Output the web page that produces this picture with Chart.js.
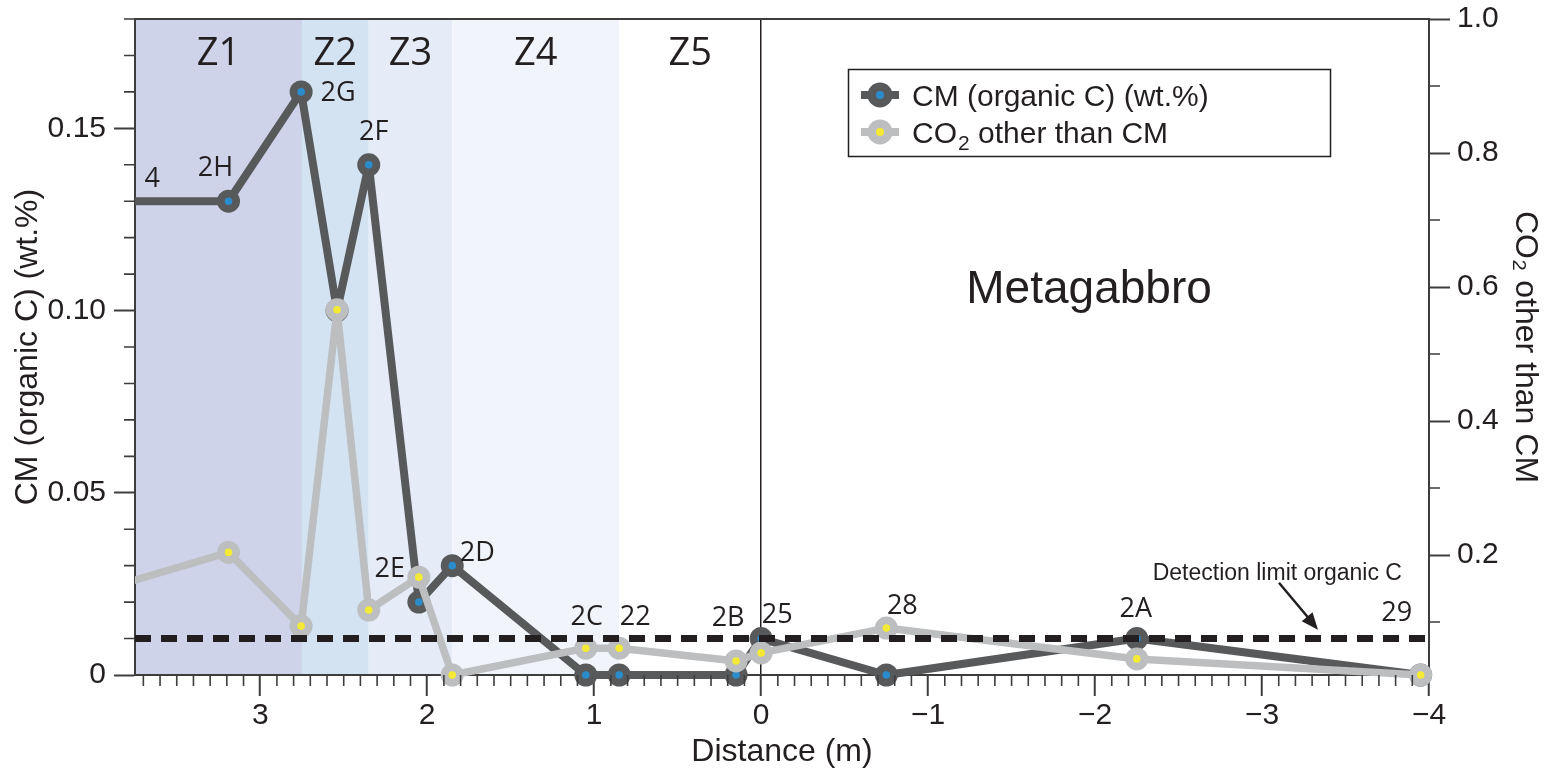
<!DOCTYPE html>
<html>
<head>
<meta charset="utf-8">
<title>CM and CO2 across the contact</title>
<script src="https://cdn.jsdelivr.net/npm/chart.js@4.4.0/dist/chart.umd.min.js"></script>
<style>
  html, body { margin: 0; padding: 0; background: #fff; }
  #wrap { width: 1553px; height: 771px; }
</style>
</head>
<body>
<div id="wrap"><canvas id="profile" width="1553" height="771"></canvas></div>
<script>
// distance from the contact (m), samples from left to right
const distance = [4.0, 3.19, 2.755, 2.54, 2.35, 2.05, 1.85, 1.05, 0.85, 0.15, 0.0, -0.75, -2.25, -3.95];
const sampleNames = ['4', '2H', '2G', '', '2F', '2E', '2D', '2C', '22', '2B', '25', '28', '2A', '29'];
const cmOrganic = [0.13, 0.13, 0.16, 0.10, 0.14, 0.02, 0.03, 0, 0, 0, 0.01, 0, 0.01, 0];
const co2Other = [0.144, 0.204, 0.094, 0.566, 0.118, 0.167, 0.021, 0.061, 0.061, 0.042, 0.054, 0.091, 0.045, 0.021];
const detectionLimit = 0.01;

const zoneNames = ['Z1', 'Z2', 'Z3', 'Z4', 'Z5'];
const zoneBounds = [3.75, 2.75, 2.35, 1.85, 0.85, 0];

const xTicks = [3, 2, 1, 0, -1, -2, -3, -4];
const cmTicks = [0, 0.05, 0.10, 0.15];
const co2Ticks = [0.2, 0.4, 0.6, 0.8, 1.0];

// styling
const sans = "'Liberation Sans', Arial, sans-serif";
const myriad = "'Open Sans', 'Noto Sans', sans-serif";
const ink = '#231f20';
const axisGray = '#3d3d3d';
const cmColor = '#58595b';
const cmDot = '#2a8ccb';
const co2Color = '#bcbec0';
const co2Dot = '#f4ea35';
const zoneColors = ['#cfd3ea', '#d3e3f2', '#e5ecf7', '#f1f5fb', '#ffffff'];
// label position (dx, baseline dy) relative to the CM point of the same sample
const labelOffsets = [[59, -14], [-13, -25], [37, 9], [0, 0], [5, -25], [-29, -25], [25, -5], [1, -50],
                      [16, -50], [-8, -49], [16, -16], [16, -61], [-1, -22], [-24, -54]];

const backdrop = {
    id: 'backdrop',
    beforeDraw(chart) {
        const { ctx, chartArea: a, scales: { x } } = chart;
        ctx.save();
        ctx.fillStyle = '#fff';
        ctx.fillRect(0, 0, chart.width, chart.height);
        zoneNames.forEach((z, i) => {
            const x0 = Math.max(a.left, x.getPixelForValue(zoneBounds[i]));
            const x1 = x.getPixelForValue(zoneBounds[i + 1]);
            ctx.fillStyle = zoneColors[i];
            ctx.fillRect(x0, a.top, x1 - x0, a.bottom - a.top);
        });
        ctx.restore();
    }
};

const innerDots = {
    id: 'innerDots',
    afterDatasetDraw(chart, args) {
        const ds = chart.data.datasets[args.index];
        if (!ds.dotColor) return;
        const { ctx, chartArea: a } = chart;
        ctx.save();
        ctx.fillStyle = ds.dotColor;
        args.meta.data.forEach(pt => {
            if (pt.x < a.left || pt.x > a.right + 1) return;
            ctx.beginPath();
            ctx.arc(pt.x, pt.y, 3.8, 0, Math.PI * 2);
            ctx.fill();
        });
        ctx.restore();
    }
};

const annotations = {
    id: 'annotations',
    afterDatasetsDraw(chart) {
        const { ctx, chartArea: a, scales: { x, y } } = chart;
        const cmPoints = chart.getDatasetMeta(0).data;
        ctx.save();

        // zone names
        ctx.fillStyle = ink;
        ctx.textAlign = 'center';
        ctx.textBaseline = 'alphabetic';
        ctx.font = '38px ' + myriad;
        zoneNames.forEach((z, i) => {
            const x0 = Math.max(a.left, x.getPixelForValue(zoneBounds[i]));
            const x1 = x.getPixelForValue(zoneBounds[i + 1]);
            ctx.fillText(z, (x0 + x1) / 2, a.top + 46);
        });

        // sample names
        ctx.font = '27px ' + myriad;
        sampleNames.forEach((name, i) => {
            if (!name) return;
            const p = cmPoints[i];
            ctx.fillText(name, p.x + labelOffsets[i][0], p.y + labelOffsets[i][1]);
        });

        // rock name
        ctx.font = '46px ' + sans;
        ctx.fillText('Metagabbro', x.getPixelForValue(-1.964), y.getPixelForValue(0.1066) + 16);

        // detection limit note and arrow
        const tipX = x.getPixelForValue(-3.335);
        const tipY = y.getPixelForValue(0.0124);
        ctx.font = '23px ' + sans;
        ctx.textAlign = 'right';
        ctx.fillText('Detection limit organic C', tipX + 84, tipY - 50);
        ctx.strokeStyle = ink;
        ctx.lineWidth = 2.5;
        ctx.beginPath();
        ctx.moveTo(tipX - 39, tipY - 47);
        ctx.lineTo(tipX - 8, tipY - 10);
        ctx.stroke();
        const ang = Math.atan2(47, 39);
        ctx.fillStyle = ink;
        ctx.beginPath();
        ctx.moveTo(tipX, tipY);
        ctx.lineTo(tipX - 17 * Math.cos(ang) + 7 * Math.sin(ang), tipY - 17 * Math.sin(ang) - 7 * Math.cos(ang));
        ctx.lineTo(tipX - 17 * Math.cos(ang) - 7 * Math.sin(ang), tipY - 17 * Math.sin(ang) + 7 * Math.cos(ang));
        ctx.closePath();
        ctx.fill();
        ctx.restore();
    },
    afterDraw(chart) {
        const { ctx, chartArea: a, scales: { x, y, y2 } } = chart;
        ctx.save();
        ctx.strokeStyle = axisGray;
        // top frame line
        ctx.lineWidth = 2;
        ctx.beginPath();
        ctx.moveTo(a.left - 1, a.top);
        ctx.lineTo(a.right + 1, a.top);
        ctx.stroke();

        // minor ticks
        ctx.lineWidth = 1.6;
        ctx.beginPath();
        for (let k = -39; k <= 37; k++) {
            if (k % 10 === 0) continue;
            const px = x.getPixelForValue(k / 10);
            ctx.moveTo(px, a.bottom);
            ctx.lineTo(px, a.bottom + 11);
        }
        for (let k = 1; k <= 18; k++) {
            if (k % 5 === 0) continue;
            const py = y.getPixelForValue(k / 100);
            ctx.moveTo(a.left, py);
            ctx.lineTo(a.left - 11, py);
        }
        for (let k = 1; k <= 9; k += 2) {
            const py = y2.getPixelForValue(k / 10);
            ctx.moveTo(a.right, py);
            ctx.lineTo(a.right + 11, py);
        }
        ctx.stroke();

        // legend
        const bx = 848, by = 69, bw = 482, bh = 87;
        ctx.fillStyle = '#fff';
        ctx.fillRect(bx, by, bw, bh);
        ctx.strokeStyle = ink;
        ctx.lineWidth = 1.5;
        ctx.strokeRect(bx + 0.5, by + 0.5, bw, bh);
        const rows = [
            { y: 95, color: cmColor, dot: cmDot },
            { y: 132, color: co2Color, dot: co2Dot }
        ];
        rows.forEach(r => {
            ctx.strokeStyle = r.color;
            ctx.lineWidth = 8;
            ctx.beginPath();
            ctx.moveTo(861, r.y);
            ctx.lineTo(899, r.y);
            ctx.stroke();
            ctx.fillStyle = r.color;
            ctx.beginPath();
            ctx.arc(880, r.y, 12.5, 0, Math.PI * 2);
            ctx.fill();
            ctx.fillStyle = r.dot;
            ctx.beginPath();
            ctx.arc(880, r.y, 4, 0, Math.PI * 2);
            ctx.fill();
        });
        ctx.fillStyle = ink;
        ctx.textAlign = 'left';
        ctx.textBaseline = 'alphabetic';
        ctx.font = '30px ' + sans;
        ctx.fillText('CM (organic C) (wt.%)', 912, 106);
        ctx.fillText('CO', 912, 143);
        let w = ctx.measureText('CO').width;
        ctx.font = '21px ' + sans;
        ctx.fillText('2', 912 + w + 1, 150);
        w += ctx.measureText('2').width + 1;
        ctx.font = '30px ' + sans;
        ctx.fillText(' other than CM', 912 + w, 143);
        ctx.restore();
    }
};

const pointData = vals => distance.map((d, i) => ({ x: d, y: vals[i] }));
const leftClip = { left: 0, top: false, right: false, bottom: false };

// fixed frame: plot area 135..1429 x 19..675
const fitVertical = width => s => {
    s.width = width;
    s.paddingTop = 0;
    s.paddingBottom = 0;
};

new Chart(document.getElementById('profile'), {
    type: 'line',
    data: {
        datasets: [{
            label: 'CM (organic C) (wt.%)',
            data: pointData(cmOrganic),
            yAxisID: 'y',
            borderColor: cmColor,
            borderWidth: 8,
            borderJoinStyle: 'round',
            pointRadius: 11.5,
            pointBorderWidth: 0,
            pointBackgroundColor: cmColor,
            dotColor: cmDot,
            order: 2,
            clip: leftClip
        }, {
            label: 'CO₂ other than CM',
            data: pointData(co2Other),
            yAxisID: 'y2',
            borderColor: co2Color,
            borderWidth: 7.5,
            borderJoinStyle: 'round',
            pointRadius: 11.5,
            pointBorderWidth: 0,
            pointBackgroundColor: co2Color,
            dotColor: co2Dot,
            order: 1,
            clip: leftClip
        }, {
            label: 'Detection limit organic C',
            data: [{ x: 3.75, y: detectionLimit }, { x: -4, y: detectionLimit }],
            yAxisID: 'y',
            borderColor: ink,
            borderWidth: 7,
            borderDash: [16, 10],
            pointRadius: 0,
            order: 0
        }]
    },
    options: {
        responsive: false,
        animation: false,
        events: [],
        layout: { padding: { top: 19, left: 0, right: 0, bottom: 0 } },
        plugins: { legend: { display: false }, tooltip: { enabled: false } },
        scales: {
            x: {
                type: 'linear',
                reverse: true,
                min: -4,
                max: 3.75,
                afterBuildTicks: s => { s.ticks = xTicks.map(v => ({ value: v })); },
                afterFit: s => { s.height = 96; },
                ticks: {
                    font: { family: sans, size: 30 },
                    color: ink,
                    padding: 2,
                    maxRotation: 0,
                    autoSkip: false,
                    callback: v => v < 0 ? '\u2212' + Math.abs(v) : String(v)
                },
                grid: {
                    drawOnChartArea: true,
                    color: c => (c.tick && c.tick.value === 0) ? ink : 'rgba(0,0,0,0)',
                    lineWidth: 1.5,
                    tickLength: 21,
                    tickWidth: 2,
                    tickColor: axisGray
                },
                border: { display: true, color: axisGray, width: 2 },
                title: {
                    display: true,
                    text: 'Distance (m)',
                    font: { family: sans, size: 32 },
                    color: ink,
                    padding: { top: 0, bottom: 0 }
                }
            },
            y: {
                position: 'left',
                min: 0,
                max: 0.18,
                afterBuildTicks: s => { s.ticks = cmTicks.map(v => ({ value: v })); },
                afterFit: fitVertical(135),
                ticks: {
                    font: { family: sans, size: 30 },
                    color: ink,
                    padding: 8,
                    callback: v => v === 0 ? '0' : v.toFixed(2)
                },
                grid: { drawOnChartArea: false, tickLength: 21, tickWidth: 2, tickColor: axisGray },
                border: { display: true, color: axisGray, width: 2 },
                title: {
                    display: true,
                    text: 'CM (organic C) (wt.%)',
                    font: { family: sans, size: 32 },
                    color: ink,
                    padding: { top: 9, bottom: 0 }
                }
            },
            y2: {
                position: 'right',
                min: 0.021,
                max: 1.0,
                afterBuildTicks: s => { s.ticks = co2Ticks.map(v => ({ value: v })); },
                afterFit: fitVertical(124),
                ticks: {
                    font: { family: sans, size: 30 },
                    color: ink,
                    padding: 7,
                    callback: v => v.toFixed(1)
                },
                grid: { drawOnChartArea: false, tickLength: 21, tickWidth: 2, tickColor: axisGray },
                border: { display: true, color: axisGray, width: 2 },
                title: {
                    display: true,
                    text: 'CO₂ other than CM',
                    font: { family: sans, size: 32 },
                    color: ink,
                    padding: { top: 9, bottom: 0 }
                }
            }
        }
    },
    plugins: [backdrop, innerDots, annotations]
});
</script>
</body>
</html>
